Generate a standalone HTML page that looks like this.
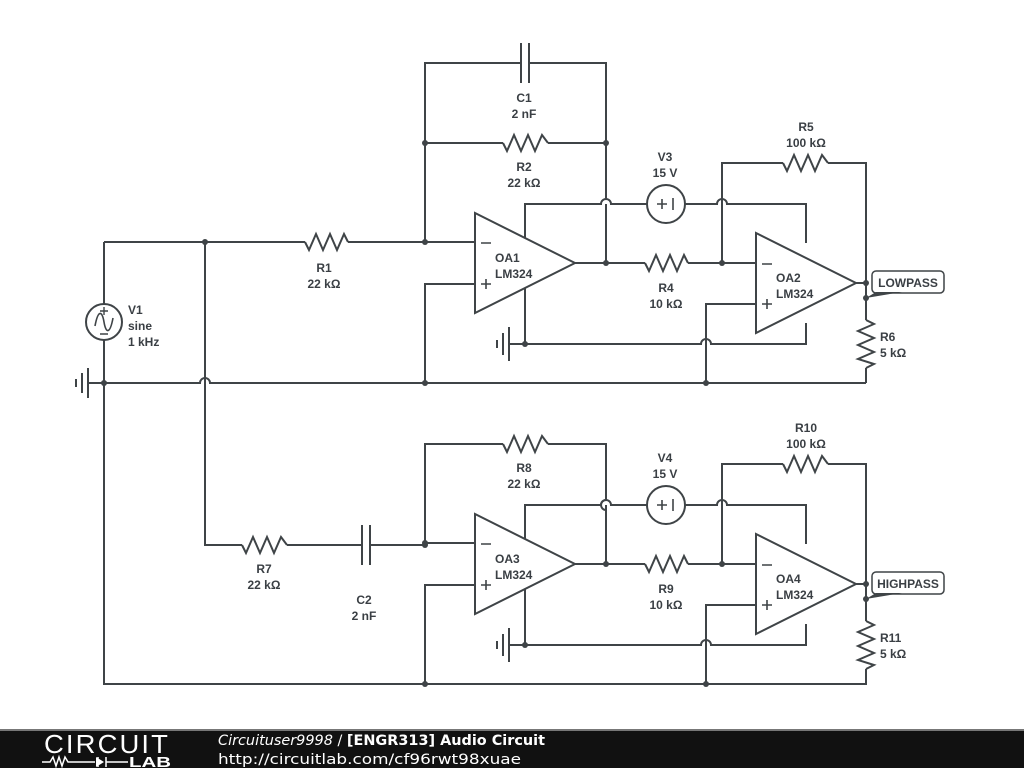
<!DOCTYPE html>
<html><head><meta charset="utf-8"><style>
html,body{margin:0;padding:0;background:#fff;width:1024px;height:768px;overflow:hidden}
svg{display:block}
text{font-family:"Liberation Sans",sans-serif;font-weight:bold;font-size:12px;fill:#3a3f44}
</style></head><body>
<svg width="1024" height="768" viewBox="0 0 1024 768">
<defs>
<g id="stage" fill="none" stroke="#3f4447" stroke-width="2">
  <polygon points="475,213 475,313 575,263"/>
  <path d="M425,242H475 M475,284H425V383"/>
  <path d="M481,243H491 M481,284H491 M486,279V289" stroke-width="1.6"/>
  <path d="M575,263H645"/>
  <polyline points="645,263 649,271 656,255 663,271 670,255 677,271 684,255 688,263"/>
  <path d="M688,263H756"/>
  <polygon points="756,233 756,333 856,283"/>
  <path d="M762,264H772 M762,304H772 M767,299V309" stroke-width="1.6"/>
  <path d="M756,304H706V383"/>
  <path d="M525,238V204H601 A5,5 0 0 1 611,204 H647"/>
  <circle cx="666" cy="204" r="19"/>
  <path d="M685,204H717 A5,5 0 0 1 727,204 H806V243"/>
  <path d="M657,204H667 M662,199V209 M673,198V210" stroke-width="1.6"/>
  <path d="M525,288V344H701 A5,5 0 0 1 711,344 H806V323"/>
  <path d="M525,344H509 M509,327V361 M503,333V355 M497,340V348"/>
  <path d="M606,204V263"/>
  <path d="M722,263V163H783"/>
  <polyline points="783,163 787,171 794,155 801,171 808,155 815,171 822,155 828,163"/>
  <path d="M828,163H866V320"/>
  <polyline points="866,320 874,324 858,331 874,338 858,345 874,352 858,359 874,364 866,368"/>
  <path d="M866,368V383 M856,283H866"/>
  <path d="M425,383H866"/>
  <g fill="#3f4447" stroke="none">
    <circle cx="425" cy="242" r="3"/><circle cx="606" cy="263" r="3"/><circle cx="722" cy="263" r="3"/>
    <circle cx="525" cy="344" r="3"/><circle cx="425" cy="383" r="3"/><circle cx="706" cy="383" r="3"/>
    <circle cx="866" cy="283" r="3"/><circle cx="866" cy="298" r="3"/>
  </g>
  <rect x="872" y="271" width="72" height="22" rx="4" fill="#fff" stroke="#3f4447" stroke-width="1.5"/>
  <path d="M866,298 L876,292 L902,292 L878,296 Z" fill="#3f4447" stroke="none"/>
</g>
</defs>
<use href="#stage"/>
<use href="#stage" transform="translate(0,301)"/>
<g fill="none" stroke="#3f4447" stroke-width="2">
  <path d="M104,242H305"/>
  <polyline points="305,242 309,250 316,234 323,250 330,234 337,250 344,234 348,242"/>
  <path d="M348,242H425"/>
  <path d="M425,242V63H521 M521,43V83 M529,43V83 M529,63H606V199"/>
  <path d="M425,143H503"/>
  <polyline points="503,143 507,151 514,135 521,151 528,135 535,151 542,135 548,143"/>
  <path d="M548,143H606"/>
  <path d="M104,242V304"/>
  <circle cx="104" cy="322" r="18"/>
  <path d="M95,326 C98,310 102,310 104,322 C106,334 110,334 113,318" stroke-width="1.6"/>
  <path d="M100,311H108 M104,307V315 M100,334H108" stroke-width="1.4"/>
  <path d="M104,340V684H866V669"/>
  <path d="M104,383H200 A5,5 0 0 1 210,383 H425"/>
  <path d="M104,383H88 M88,368V398 M82,373V393 M76,379V387"/>
  <path d="M205,242V545H242"/>
  <polyline points="242,545 246,553 253,537 260,553 267,537 274,553 281,537 287,545"/>
  <path d="M287,545H362 M362,525V565 M370,525V565 M370,545H425"/>
  <path d="M425,545V444H503"/>
  <polyline points="503,444 507,452 514,436 521,452 528,436 535,452 542,436 548,444"/>
  <path d="M548,444H606V500 A5,5 0 0 0 606,510 V564"/>
</g>
<g fill="#3f4447">
  <circle cx="205" cy="242" r="3"/><circle cx="425" cy="143" r="3"/><circle cx="606" cy="143" r="3"/>
  <circle cx="104" cy="383" r="3"/><circle cx="425" cy="545" r="3"/>
</g>
<g text-anchor="middle">
  <text x="524" y="102">C1</text><text x="524" y="118">2 nF</text>
  <text x="524" y="171">R2</text><text x="524" y="187">22 kΩ</text>
  <text x="324" y="272">R1</text><text x="324" y="288">22 kΩ</text>
  <text x="665" y="161">V3</text><text x="665" y="177">15 V</text>
  <text x="806" y="131">R5</text><text x="806" y="147">100 kΩ</text>
  <text x="666" y="292">R4</text><text x="666" y="308">10 kΩ</text>
  <text x="524" y="472">R8</text><text x="524" y="488">22 kΩ</text>
  <text x="665" y="462">V4</text><text x="665" y="478">15 V</text>
  <text x="806" y="432">R10</text><text x="806" y="448">100 kΩ</text>
  <text x="666" y="593">R9</text><text x="666" y="609">10 kΩ</text>
  <text x="264" y="573">R7</text><text x="264" y="589">22 kΩ</text>
  <text x="364" y="604">C2</text><text x="364" y="620">2 nF</text>
  <text x="908" y="287">LOWPASS</text><text x="908" y="588">HIGHPASS</text>
</g>
<g>
  <text x="128" y="314">V1</text><text x="128" y="330">sine</text><text x="128" y="346">1 kHz</text>
  <text x="495" y="262">OA1</text><text x="495" y="278">LM324</text>
  <text x="776" y="282">OA2</text><text x="776" y="298">LM324</text>
  <text x="495" y="563">OA3</text><text x="495" y="579">LM324</text>
  <text x="776" y="583">OA4</text><text x="776" y="599">LM324</text>
  <text x="880" y="341">R6</text><text x="880" y="357">5 kΩ</text>
  <text x="880" y="642">R11</text><text x="880" y="658">5 kΩ</text>
</g>
<rect x="0" y="729" width="1024" height="39" fill="#111"/>
<rect x="0" y="729" width="1024" height="2" fill="#777"/>
<text x="44" y="753" style="font-weight:normal;font-size:26px;fill:#fff;letter-spacing:2px" textLength="126" lengthAdjust="spacingAndGlyphs">CIRCUIT</text>
<path d="M42,762H50 L53,757 56,766 59,757 62,766 65,757 68,762 H95 M98,757V767 M106,757V767" stroke="#fff" stroke-width="1.5" fill="none"/>
<polygon points="96,757 96,767 104,762" fill="#fff"/>
<path d="M106,762H128" stroke="#fff" stroke-width="1.5"/>
<text x="129" y="767" style="font-size:15px;fill:#fff;font-weight:900" textLength="42" lengthAdjust="spacingAndGlyphs">LAB</text>
<text x="218" y="745" style="font-family:'DejaVu Sans',sans-serif;font-size:14.5px;fill:#fff" textLength="327" lengthAdjust="spacingAndGlyphs"><tspan style="font-weight:normal;font-style:italic">Circuituser9998</tspan><tspan style="font-weight:normal"> / </tspan>[ENGR313] Audio Circuit</text>
<text x="218" y="764" style="font-family:'DejaVu Sans',sans-serif;font-size:14.5px;fill:#fff;font-weight:normal" textLength="303" lengthAdjust="spacingAndGlyphs">http://circuitlab.com/cf96rwt98xuae</text>
</svg>
</body></html>
